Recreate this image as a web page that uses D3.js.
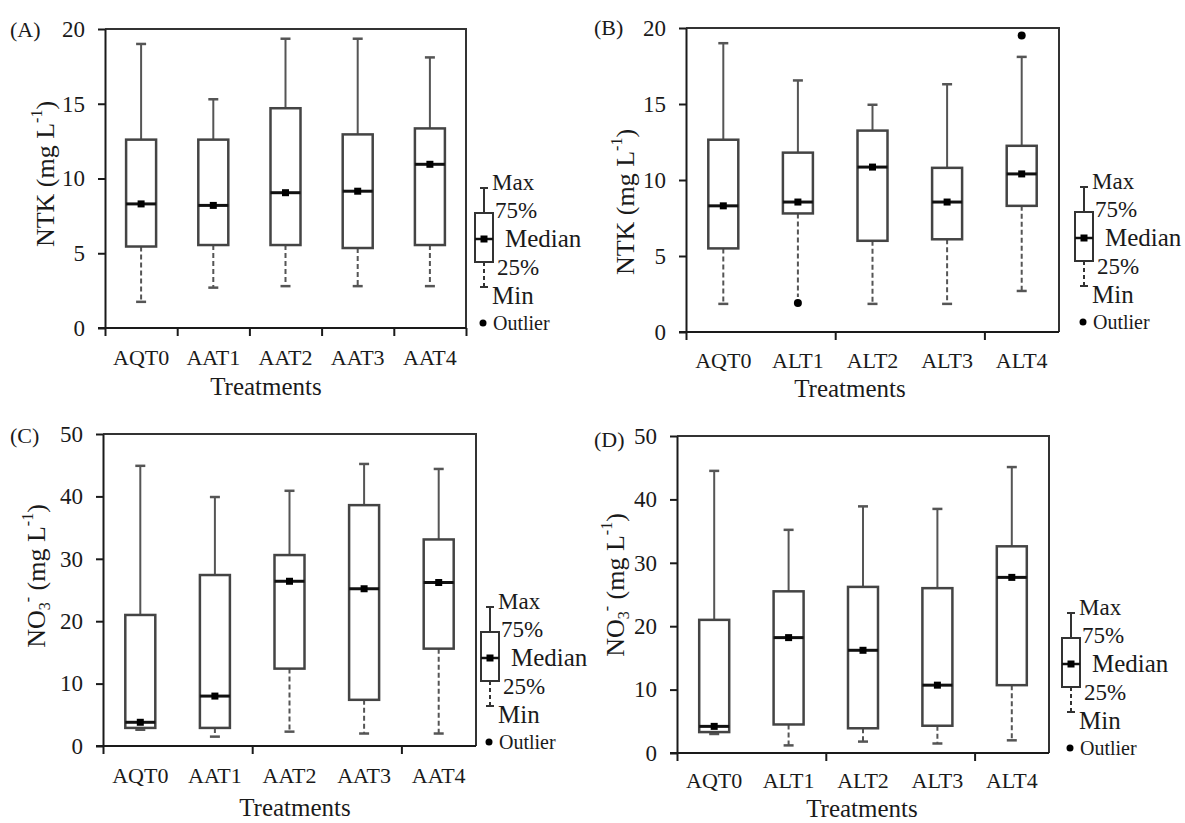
<!DOCTYPE html>
<html>
<head>
<meta charset="utf-8">
<script src="https://cdn.jsdelivr.net/npm/d3@7"></script>
<style>
  body { margin: 0; background: #fff; }
</style>
</head>
<body>
<svg id="chart" width="1185" height="823"></svg>
<script>
// Box plots - NTK and NO3- by treatment

const FONT = "'Liberation Serif', 'Times New Roman', Times, serif";

const catsA = ["AQT0", "AAT1", "AAT2", "AAT3", "AAT4"];
const catsL = ["AQT0", "ALT1", "ALT2", "ALT3", "ALT4"];

// (A) NTK, AAT treatments
const aMax = [19.0, 15.3, 19.35, 19.35, 18.1];
const aQ3  = [12.6, 12.6, 14.7, 12.95, 13.35];
const aMed = [8.3, 8.2, 9.05, 9.15, 10.95];
const aQ1  = [5.45, 5.55, 5.55, 5.35, 5.55];
const aMin = [1.75, 2.7, 2.8, 2.8, 2.8];
const aOut = [];

// (B) NTK, ALT treatments
const bMax = [19.0, 16.55, 14.95, 16.3, 18.1];
const bQ3  = [12.65, 11.8, 13.25, 10.8, 12.25];
const bMed = [8.3, 8.55, 10.85, 8.55, 10.4];
const bQ1  = [5.5, 7.8, 6.0, 6.1, 8.3];
const bMin = [1.85, 2.3, 1.85, 1.85, 2.7];
const bOut = [{ cat: "ALT1", v: 1.9 }, { cat: "ALT4", v: 19.5 }];

// (C) NO3-, AAT treatments
const cMax = [44.9, 39.9, 40.9, 45.2, 44.4];
const cQ3  = [21.0, 27.4, 30.6, 38.6, 33.1];
const cMed = [3.8, 8.0, 26.4, 25.2, 26.2];
const cQ1  = [2.9, 2.9, 12.4, 7.4, 15.6];
const cMin = [2.6, 1.5, 2.3, 2.0, 2.0];
const cOut = [];

// (D) NO3-, ALT treatments
const dMax = [44.5, 35.2, 38.9, 38.5, 45.1];
const dQ3  = [21.0, 25.5, 26.2, 26.0, 32.6];
const dMed = [4.2, 18.2, 16.2, 10.7, 27.7];
const dQ1  = [3.3, 4.5, 3.9, 4.3, 10.7];
const dMin = [3.0, 1.2, 1.8, 1.5, 2.0];
const dOut = [];

const ntkTicks = [0, 5, 10, 15, 20];
const no3Ticks = [0, 10, 20, 30, 40, 50];

const legendLabels = ["Max", "75%", "Median", "25%", "Min", "Outlier"];

const svg = d3.select("#chart");
svg.append("rect").attr("width", 1185).attr("height", 823).attr("fill", "#fff");

const panels = [
    { label: "(A)", lx: 10, ly: 37, cats: catsA, max: aMax, q3: aQ3, med: aMed, q1: aQ1, min: aMin, out: aOut,
      x0: 105, x1: 466, yTop: 29, y0: 328, yMax: 20, ticks: ntkTicks, every: 1, title: "ntk",
      tX: 45, tY: 174, catY: 365, trX: 266, trY: 395, legX: 475, legY: 213 },
    { label: "(B)", lx: 594, ly: 35, cats: catsL, max: bMax, q3: bQ3, med: bMed, q1: bQ1, min: bMin, out: bOut,
      x0: 686, x1: 1059, yTop: 28, y0: 332, yMax: 20, ticks: ntkTicks, every: 2, title: "ntk",
      tX: 625, tY: 202, catY: 368, trX: 850, trY: 397, legX: 1075, legY: 212 },
    { label: "(C)", lx: 10, ly: 443, cats: catsA, max: cMax, q3: cQ3, med: cMed, q1: cQ1, min: cMin, out: cOut,
      x0: 103, x1: 476, yTop: 434, y0: 746, yMax: 50, ticks: no3Ticks, every: 2, title: "no3",
      tX: 36, tY: 576, catY: 783, trX: 295, trY: 816, legX: 481, legY: 632 },
    { label: "(D)", lx: 594, ly: 447, cats: catsL, max: dMax, q3: dQ3, med: dMed, q1: dQ1, min: dMin, out: dOut,
      x0: 677, x1: 1049, yTop: 436, y0: 753, yMax: 50, ticks: no3Ticks, every: 2, title: "no3",
      tX: 615, tY: 585, catY: 788, trX: 862, trY: 817, legX: 1062, legY: 638 }
];

const boxW = 30;
const capW = 10;
const mk = 7;
const boxColor = "#444";
const whiskColor = "#555";

function yTitle(g, p) {
    const t = g.append("text")
        .attr("transform", "translate(" + p.tX + "," + p.tY + ") rotate(-90)")
        .attr("text-anchor", "middle")
        .attr("dominant-baseline", "central")
        .style("font-size", "26px");
    if (p.title === "ntk") {
        t.append("tspan").text("NTK (mg L");
    } else {
        t.append("tspan").text("NO");
        t.append("tspan").attr("baseline-shift", "sub").style("font-size", "16px").text("3");
        t.append("tspan").attr("baseline-shift", "super").style("font-size", "16px").text("-");
        t.append("tspan").text(" (mg L");
    }
    t.append("tspan").attr("baseline-shift", "super").style("font-size", "16px").text("-1");
    t.append("tspan").text(")");
}

function drawLegend(g, lx, ly) {
    const cx = lx + 9;
    g.append("line").attr("x1", cx).attr("x2", cx).attr("y1", ly - 25).attr("y2", ly)
        .attr("stroke", "#333").attr("stroke-width", 2);
    g.append("line").attr("x1", cx - 4).attr("x2", cx + 4).attr("y1", ly - 25).attr("y2", ly - 25)
        .attr("stroke", "#333").attr("stroke-width", 2);
    g.append("line").attr("x1", cx).attr("x2", cx).attr("y1", ly + 49).attr("y2", ly + 74)
        .attr("stroke", "#333").attr("stroke-width", 2).attr("stroke-dasharray", "4,3");
    g.append("line").attr("x1", cx - 4).attr("x2", cx + 4).attr("y1", ly + 74).attr("y2", ly + 74)
        .attr("stroke", "#333").attr("stroke-width", 2);
    g.append("rect").attr("x", lx).attr("y", ly).attr("width", 18).attr("height", 49)
        .attr("fill", "#fff").attr("stroke", "#333").attr("stroke-width", 2);
    g.append("line").attr("x1", lx).attr("x2", lx + 18).attr("y1", ly + 26).attr("y2", ly + 26)
        .attr("stroke", "#111").attr("stroke-width", 2.5);
    g.append("rect").attr("x", cx - 3.5).attr("y", ly + 22.5).attr("width", 7).attr("height", 7).attr("fill", "#000");
    g.append("circle").attr("cx", lx + 8).attr("cy", ly + 110).attr("r", 3.5).attr("fill", "#000");

    const pos = [[17, -23, 23], [20, 5, 23], [30, 34, 25], [22, 62, 23], [17, 91, 25], [18, 117, 20]];
    legendLabels.forEach((s, i) => {
        g.append("text").attr("x", lx + pos[i][0]).attr("y", ly + pos[i][1])
            .style("font-size", pos[i][2] + "px").text(s);
    });
}

panels.forEach(p => {
    const g = svg.append("g");

    const x = d3.scaleBand().domain(p.cats).range([p.x0, p.x1]).paddingInner(0).paddingOuter(0);
    const y = d3.scaleLinear().domain([0, p.yMax]).range([p.y0, p.yTop]);
    const xIdx = d3.scaleLinear().domain([0, p.cats.length]).range([p.x0, p.x1]);

    // frame (top + right)
    g.append("path")
        .attr("d", "M" + p.x0 + "," + p.yTop + "H" + p.x1 + "V" + p.y0)
        .attr("fill", "none").attr("stroke", "#333").attr("stroke-width", 2);

    // y axis
    const ya = g.append("g").attr("transform", "translate(" + p.x0 + ",0)")
        .call(d3.axisLeft(y).tickValues(p.ticks).tickSize(7).tickPadding(13).tickSizeOuter(0));
    ya.selectAll("text").style("font-size", "23px");

    // x axis boundary ticks
    const bTicks = d3.range(0, p.cats.length + 1, p.every).filter(v => v < p.cats.length || p.every === 1);
    const xa = g.append("g").attr("transform", "translate(0," + p.y0 + ")")
        .call(d3.axisBottom(xIdx).tickValues(bTicks).tickSize(8).tickFormat("").tickSizeOuter(0));
    xa.select(".domain").attr("d", "M" + (p.x0 - 7) + ",0H" + p.x1);

    g.selectAll(".domain, .tick line").attr("stroke", "#1a1a1a").attr("stroke-width", 2);

    // category labels
    const xl = g.append("g").attr("transform", "translate(0," + p.y0 + ")")
        .call(d3.axisBottom(x).tickSize(0).tickPadding(0));
    xl.select(".domain").remove();
    xl.selectAll("text").attr("y", p.catY - p.y0).attr("dy", null).style("font-size", "22px");

    g.append("text").attr("x", p.trX).attr("y", p.trY).attr("text-anchor", "middle")
        .style("font-size", "25px").text("Treatments");

    g.append("text").attr("x", p.lx).attr("y", p.ly).style("font-size", "22px").text(p.label);

    yTitle(g, p);

    // boxes
    p.cats.forEach((c, i) => {
        const cx = x(c) + x.bandwidth() / 2;
        const hasLowOut = p.out.some(o => o.cat === c && o.v < p.min[i] + 0.01);
        g.append("line").attr("x1", cx).attr("x2", cx).attr("y1", y(p.q3[i])).attr("y2", y(p.max[i]))
            .attr("stroke", whiskColor).attr("stroke-width", 2);
        g.append("line").attr("x1", cx - capW / 2).attr("x2", cx + capW / 2)
            .attr("y1", y(p.max[i])).attr("y2", y(p.max[i]))
            .attr("stroke", whiskColor).attr("stroke-width", 2.5);
        g.append("line").attr("x1", cx).attr("x2", cx).attr("y1", y(p.q1[i])).attr("y2", y(p.min[i]))
            .attr("stroke", whiskColor).attr("stroke-width", 2).attr("stroke-dasharray", "5,3");
        if (!hasLowOut) {
            g.append("line").attr("x1", cx - capW / 2).attr("x2", cx + capW / 2)
                .attr("y1", y(p.min[i])).attr("y2", y(p.min[i]))
                .attr("stroke", whiskColor).attr("stroke-width", 2.5);
        }
        g.append("rect").attr("x", cx - boxW / 2).attr("y", y(p.q3[i]))
            .attr("width", boxW).attr("height", y(p.q1[i]) - y(p.q3[i]))
            .attr("fill", "#fff").attr("stroke", boxColor).attr("stroke-width", 2.5);
        g.append("line").attr("x1", cx - boxW / 2).attr("x2", cx + boxW / 2)
            .attr("y1", y(p.med[i])).attr("y2", y(p.med[i]))
            .attr("stroke", "#111").attr("stroke-width", 3);
        g.append("rect").attr("x", cx - mk / 2).attr("y", y(p.med[i]) - mk / 2)
            .attr("width", mk).attr("height", mk).attr("fill", "#000");
    });

    g.selectAll(".outlier").data(p.out).enter().append("circle")
        .attr("class", "outlier")
        .attr("cx", d => x(d.cat) + x.bandwidth() / 2)
        .attr("cy", d => y(d.v))
        .attr("r", 4).attr("fill", "#000");

    drawLegend(g, p.legX, p.legY);
});

// same serif face everywhere, axis groups included
svg.selectAll("g").attr("font-family", null);
svg.selectAll("text").style("font-family", FONT).attr("fill", "#1a1a1a");
</script>
</body>
</html>
